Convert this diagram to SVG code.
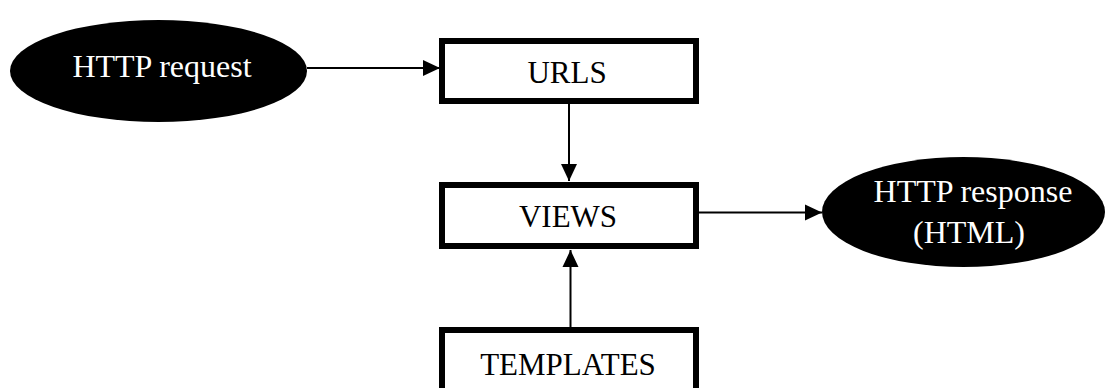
<svg xmlns="http://www.w3.org/2000/svg" width="1108" height="388" viewBox="0 0 1108 388">
<style>
.box{fill:#fff;stroke:#000;stroke-width:6}
.ell{fill:#000}
.t{font-family:"Liberation Serif","Times New Roman",serif;font-size:31px;text-anchor:middle;fill:#000}
.w{font-family:"Liberation Serif","Times New Roman",serif;font-size:32px;text-anchor:middle;fill:#fff}
.c{stroke:#000;stroke-width:2;fill:none}
</style>
<defs>
<marker id="ah" markerWidth="18" markerHeight="18" refX="17" refY="9" orient="auto" markerUnits="userSpaceOnUse">
<path d="M0,1 L17,9 L0,17 Z" fill="#000"/>
</marker>
</defs>
<rect width="1108" height="388" fill="#fff"/>
<g id="connectors">
<line class="c" x1="307" y1="68" x2="440" y2="68" marker-end="url(#ah)"/>
<line class="c" x1="569" y1="104" x2="569" y2="181" marker-end="url(#ah)"/>
<line class="c" x1="570.5" y1="327" x2="570.5" y2="250" marker-end="url(#ah)"/>
<line class="c" x1="699" y1="212.5" x2="822" y2="212.5" marker-end="url(#ah)"/>
</g>
<g id="http-request">
<ellipse class="ell" cx="158.5" cy="71" rx="148.5" ry="51"/>
<text class="w" x="162" y="77">HTTP request</text>
</g>
<g id="urls">
<rect class="box" x="442" y="41" width="254" height="60"/>
<text class="t" x="567" y="83">URLS</text>
</g>
<g id="views">
<rect class="box" x="442" y="185" width="254" height="61"/>
<text class="t" x="568" y="227">VIEWS</text>
</g>
<g id="templates">
<rect class="box" x="442" y="330" width="254" height="70"/>
<text class="t" x="568" y="375">TEMPLATES</text>
</g>
<g id="http-response">
<ellipse class="ell" cx="963.5" cy="212" rx="141.5" ry="55"/>
<text class="w" x="973" y="202">HTTP response</text>
<text class="w" x="969" y="243">(HTML)</text>
</g>
</svg>
